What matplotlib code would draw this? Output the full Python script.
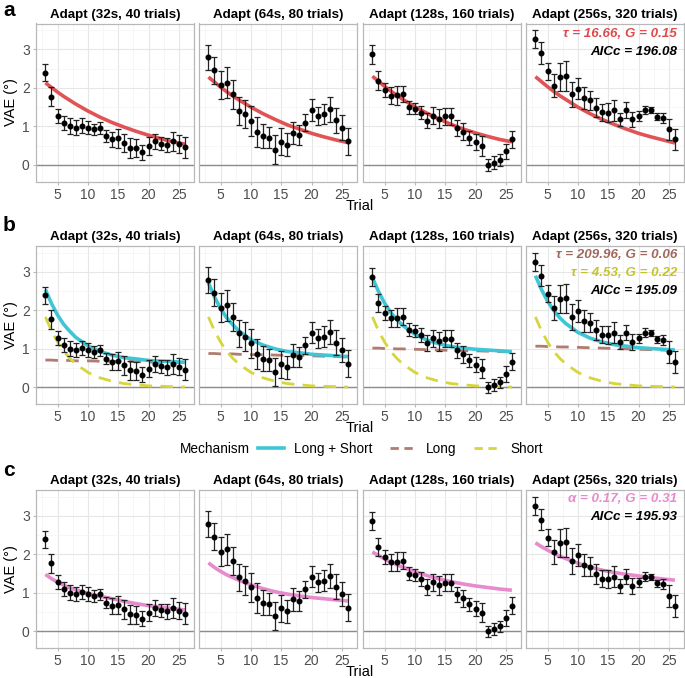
#!/usr/bin/env python3
"""VAE across trials for four adaptation durations, with three model fits."""

import matplotlib
matplotlib.use("Agg")
import matplotlib.pyplot as plt
from matplotlib.lines import Line2D

plt.rcParams["font.family"] = ["Liberation Sans", "DejaVu Sans"]

# ---- data -----------------------------------------------------------------
trials = [3, 4, 5, 6, 7, 8, 9, 10, 11, 12, 13, 14, 15, 16, 17, 18, 19, 20,
          21, 22, 23, 24, 25, 26]

conditions = ["Adapt (32s, 40 trials)", "Adapt (64s, 80 trials)",
              "Adapt (128s, 160 trials)", "Adapt (256s, 320 trials)"]

vae_32 = [2.39, 1.77, 1.28, 1.09, 1.01, 0.97, 1.02, 0.97, 0.92, 0.96, 0.75, 0.66,
          0.69, 0.57, 0.44, 0.43, 0.33, 0.49, 0.61, 0.55, 0.52, 0.61, 0.54, 0.46]
se_32 = [0.22, 0.25, 0.18, 0.18, 0.20, 0.19, 0.19, 0.17, 0.15, 0.15, 0.15, 0.20,
         0.24, 0.24, 0.25, 0.23, 0.20, 0.23, 0.20, 0.17, 0.19, 0.25, 0.23, 0.27]

vae_64 = [2.79, 2.46, 2.07, 2.13, 1.83, 1.40, 1.32, 1.14, 0.86, 0.75, 0.71, 0.40,
          0.60, 0.52, 0.83, 0.78, 1.10, 1.42, 1.27, 1.32, 1.44, 1.16, 0.97, 0.62]
se_64 = [0.33, 0.35, 0.37, 0.40, 0.37, 0.36, 0.37, 0.38, 0.39, 0.32, 0.28, 0.37,
         0.35, 0.30, 0.29, 0.26, 0.22, 0.28, 0.24, 0.27, 0.32, 0.33, 0.32, 0.35]

vae_128 = [2.87, 2.19, 1.94, 1.79, 1.81, 1.84, 1.50, 1.46, 1.36, 1.15, 1.28, 1.20,
           1.26, 1.26, 0.96, 0.86, 0.70, 0.59, 0.49, 0.00, 0.06, 0.13, 0.35, 0.67]
se_128 = [0.24, 0.24, 0.18, 0.22, 0.25, 0.22, 0.17, 0.15, 0.17, 0.20, 0.22, 0.25,
          0.22, 0.22, 0.20, 0.22, 0.18, 0.20, 0.25, 0.15, 0.16, 0.15, 0.20, 0.22]

vae_256 = [3.26, 2.90, 2.43, 2.06, 2.29, 2.31, 1.83, 1.98, 1.73, 1.68, 1.49, 1.37,
           1.36, 1.42, 1.18, 1.42, 1.18, 1.27, 1.42, 1.42, 1.25, 1.23, 0.92, 0.66]
se_256 = [0.23, 0.28, 0.22, 0.30, 0.36, 0.38, 0.33, 0.28, 0.29, 0.25, 0.25, 0.22,
          0.24, 0.27, 0.17, 0.20, 0.20, 0.12, 0.11, 0.08, 0.09, 0.13, 0.28, 0.28]

# fitted curves, read at these trials
fit_trials = [3, 4, 5, 6, 7, 8, 10, 12, 14, 16, 18, 20, 22, 24, 26]

# a: single exponential
single_32 = [2.13, 2.01, 1.89, 1.78, 1.68, 1.58, 1.40, 1.24, 1.10, 0.98, 0.87, 0.77, 0.68, 0.60, 0.54]
single_64 = [2.28, 2.15, 2.02, 1.90, 1.79, 1.69, 1.50, 1.33, 1.18, 1.04, 0.93, 0.82, 0.73, 0.65, 0.58]
single_128 = [2.30, 2.17, 2.04, 1.92, 1.81, 1.70, 1.51, 1.34, 1.19, 1.05, 0.93, 0.83, 0.74, 0.66, 0.60]
single_256 = [2.29, 2.16, 2.03, 1.91, 1.80, 1.70, 1.50, 1.33, 1.18, 1.05, 0.93, 0.82, 0.73, 0.65, 0.57]

# b: long + short
both_32 = [2.54, 2.18, 1.88, 1.64, 1.46, 1.30, 1.08, 0.93, 0.84, 0.77, 0.74, 0.70, 0.68, 0.67, 0.65]
both_64 = [2.71, 2.35, 2.05, 1.81, 1.63, 1.47, 1.24, 1.10, 1.00, 0.93, 0.90, 0.86, 0.84, 0.82, 0.80]
both_128 = [2.85, 2.49, 2.19, 1.95, 1.76, 1.61, 1.38, 1.23, 1.13, 1.06, 1.02, 0.99, 0.97, 0.95, 0.93]
both_256 = [2.90, 2.54, 2.24, 2.00, 1.81, 1.66, 1.43, 1.28, 1.18, 1.11, 1.07, 1.03, 1.01, 0.99, 0.97]

long_32 = [0.71, 0.71, 0.70, 0.70, 0.70, 0.69, 0.69, 0.68, 0.68, 0.67, 0.67, 0.66, 0.65, 0.65, 0.64]
long_64 = [0.88, 0.88, 0.87, 0.87, 0.87, 0.86, 0.85, 0.85, 0.84, 0.83, 0.83, 0.82, 0.81, 0.80, 0.79]
long_128 = [1.02, 1.02, 1.01, 1.01, 1.00, 1.00, 0.99, 0.98, 0.97, 0.96, 0.95, 0.95, 0.94, 0.93, 0.92]
long_256 = [1.07, 1.07, 1.06, 1.06, 1.05, 1.05, 1.04, 1.03, 1.02, 1.01, 1.00, 0.99, 0.98, 0.97, 0.96]

short_all = [1.83, 1.47, 1.18, 0.94, 0.76, 0.61, 0.39, 0.25, 0.16, 0.10, 0.07, 0.04, 0.03, 0.02, 0.01]

# c: power-law style fit
power_32 = [1.48, 1.37, 1.28, 1.20, 1.13, 1.08, 0.99, 0.91, 0.85, 0.78, 0.72, 0.67, 0.63, 0.59, 0.56]
power_64 = [1.78, 1.66, 1.56, 1.47, 1.40, 1.33, 1.21, 1.11, 1.03, 0.97, 0.92, 0.88, 0.85, 0.82, 0.79]
power_128 = [2.06, 1.97, 1.88, 1.80, 1.73, 1.67, 1.55, 1.45, 1.36, 1.29, 1.23, 1.18, 1.14, 1.10, 1.07]
power_256 = [2.30, 2.20, 2.11, 2.03, 1.95, 1.89, 1.77, 1.67, 1.59, 1.53, 1.48, 1.44, 1.40, 1.36, 1.33]

annot_a = ["τ = 16.66, G = 0.15", "AICc = 196.08"]
annot_b = ["τ = 209.96, G = 0.06", "τ = 4.53, G = 0.22", "AICc = 195.09"]
annot_c = ["α = 0.17, G = 0.31", "AICc = 195.93"]

RED = "#E04A4C"
CYAN = "#3FC6D6"
BROWN = "#B07B70"
OLIVE = "#D6D63C"
PINK = "#E88ACE"

W, H = 685, 678
COL_LEFT = [36, 199, 363, 526]
ROW_TOP = [23.5, 246, 490]
PW, PH = 158, 158


def make_axes(fig, row):
    axes = []
    for c, x0 in enumerate(COL_LEFT):
        ax = fig.add_axes([x0 / W, 1 - (ROW_TOP[row] + PH) / H, PW / W, PH / H])
        ax.set_xlim(1.45, 27.4)
        ax.set_ylim(-0.43, 3.67)
        ax.set_xticks([5, 10, 15, 20, 25])
        ax.set_xticks([2.5, 7.5, 12.5, 17.5, 22.5, 27.5], minor=True)
        ax.set_yticks([0, 1, 2, 3])
        ax.set_yticks([0.5, 1.5, 2.5, 3.5], minor=True)
        ax.grid(which="major", color="#E6E6E6", lw=0.8)
        ax.grid(which="minor", color="#F3F3F3", lw=0.5)
        ax.set_axisbelow(True)
        for s in ax.spines.values():
            s.set_color("#B8B8B8")
            s.set_linewidth(0.9)
        ax.tick_params(which="major", length=2.5, color="#B8B8B8",
                       labelsize=10, labelcolor="#4D4D4D", pad=2)
        ax.tick_params(which="minor", length=0)
        if c > 0:
            ax.tick_params(axis="y", labelleft=False, length=0)
        else:
            ax.set_ylabel("VAE (°)", fontsize=10.5, labelpad=3)
        ax.set_title(conditions[c], fontsize=9.6, fontweight="bold", pad=4)
        ax.axhline(0, color="#8C8C8C", lw=1.0, zorder=1)
        axes.append(ax)
    return axes


def draw_data(ax, y, e):
    ax.errorbar(trials, y, yerr=e, fmt="o", color="black", ms=3.3,
                ecolor="#222222", elinewidth=0.9, capsize=2.2, capthick=0.9,
                zorder=4)


def annotate(ax, lines, colors, y0=0.935, step=0.113):
    for i, (t, col) in enumerate(zip(lines, colors)):
        ax.text(0.955, y0 - i * step, t, transform=ax.transAxes, ha="right",
                va="center", fontsize=9.6, fontweight="bold", fontstyle="italic",
                color=col, zorder=6)


def main():
    fig = plt.figure(figsize=(W / 100, H / 100), dpi=100)

    vae = [vae_32, vae_64, vae_128, vae_256]
    se = [se_32, se_64, se_128, se_256]
    single = [single_32, single_64, single_128, single_256]
    both = [both_32, both_64, both_128, both_256]
    longc = [long_32, long_64, long_128, long_256]
    power = [power_32, power_64, power_128, power_256]

    # row a
    axes_a = make_axes(fig, 0)
    for i, ax in enumerate(axes_a):
        ax.plot(fit_trials, single[i], color=RED, lw=2.6, alpha=0.95,
                solid_capstyle="butt", zorder=3)
        draw_data(ax, vae[i], se[i])
    annotate(axes_a[3], annot_a, [RED, "black"])

    # row b
    axes_b = make_axes(fig, 1)
    for i, ax in enumerate(axes_b):
        ax.plot(fit_trials, longc[i], color=BROWN, lw=2.0, ls=(0, (4.5, 3)),
                zorder=2)
        ax.plot(fit_trials, short_all, color=OLIVE, lw=2.0, ls=(0, (4.5, 3)),
                zorder=2)
        ax.plot(fit_trials, both[i], color=CYAN, lw=2.6, solid_capstyle="butt",
                zorder=3)
        draw_data(ax, vae[i], se[i])
    annotate(axes_b[3], annot_b, ["#A0685E", "#C4C42A", "black"], y0=0.94)

    # row c
    axes_c = make_axes(fig, 2)
    for i, ax in enumerate(axes_c):
        ax.plot(fit_trials, power[i], color=PINK, lw=2.6, solid_capstyle="butt",
                zorder=3)
        draw_data(ax, vae[i], se[i])
    annotate(axes_c[3], annot_c, [PINK, "black"], y0=0.94)

    # x labels and panel letters
    for ytop in ROW_TOP:
        fig.text(360 / W, 1 - (ytop + PH + 24) / H, "Trial", ha="center",
                 va="center", fontsize=10.5)
    for letter, ypx in zip(["a", "b", "c"], [10, 226, 470]):
        fig.text(3 / W, 1 - ypx / H, letter, ha="left", va="center",
                 fontsize=15, fontweight="bold")

    # legend
    fig.text(215 / W, 1 - 449 / H, "Mechanism", ha="center", va="center",
             fontsize=9.8)
    handles = [
        Line2D([], [], color=CYAN, lw=2.6),
        Line2D([], [], color=BROWN, lw=2.0, ls=(0, (3, 2))),
        Line2D([], [], color=OLIVE, lw=2.0, ls=(0, (3, 2))),
    ]
    fig.legend(handles, ["Long + Short", "Long", "Short"], ncol=3,
               loc="center left", bbox_to_anchor=(258 / W, 1 - 449 / H),
               frameon=False, fontsize=9.8, handlelength=1.9,
               handletextpad=0.75, columnspacing=1.3, borderpad=0,
               borderaxespad=0)

    fig.savefig("out.png", dpi=100)


if __name__ == "__main__":
    main()
